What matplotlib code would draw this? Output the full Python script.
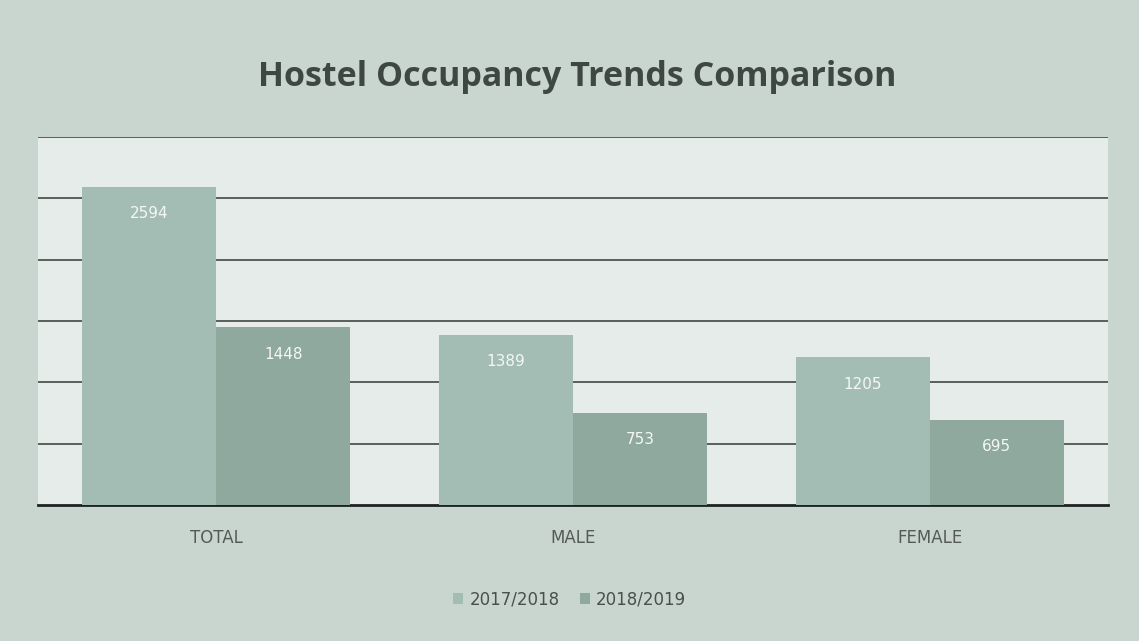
import matplotlib.pyplot as plt
import numpy as np

# data
categories=["TOTAL","MALE","FEMALE"]
series_names=["2017/2018","2018/2019"]
occ_2017=[2594,1389,1205]
occ_2018=[1448,753,695]

BG="#c9d6d0"
COLORS=["#a4bdb4","#8fa99f"]

fig=plt.figure(figsize=(11.39,6.41),dpi=100)
fig.patch.set_facecolor(BG)
ax=fig.add_axes([0.0334,0.2122,0.9394,0.5738])
ax.set_facecolor("#e6ece9")

x=np.arange(len(categories))
w=0.376
for i,(vals,nm) in enumerate([(occ_2017,series_names[0]),(occ_2018,series_names[1])]):
    off=(i-0.5)*w
    bars=ax.bar(x+off,vals,width=w,color=COLORS[i],label=nm,zorder=3)
    for b,v in zip(bars,vals):
        ax.text(b.get_x()+b.get_width()/2,v-220,f"{v}",ha="center",va="center",
                fontsize=11,color="#f4f7f5",zorder=4)

ax.set_xlim(-0.5,2.5)
ax.set_ylim(0,3000)
ax.set_yticks(np.arange(500,3001,500))
ax.yaxis.grid(True,color="#5a5f5c",linewidth=1.4,zorder=0)
ax.tick_params(axis="y",left=False,labelleft=False)
ax.tick_params(axis="x",bottom=False,labelsize=12,labelcolor="#555a57",pad=14)
ax.set_xticks(x)
ax.set_xticklabels(categories)
for s in ["top","right","left"]:
    ax.spines[s].set_visible(False)
ax.spines["bottom"].set_color("#1e2220")
ax.spines["bottom"].set_linewidth(2)

fig.text(0.507,0.88,"Hostel Occupancy Trends Comparison",ha="center",va="center",
         fontsize=24.5,fontweight="bold",color="#3f4743",family="Open Sans")

leg=fig.legend(loc="center",bbox_to_anchor=(0.5,0.065),ncol=2,frameon=False,
               fontsize=12,handlelength=0.6,handleheight=0.6,columnspacing=1.2,handletextpad=0.4)
for t in leg.get_texts():
    t.set_color("#4a4f4c")

fig.savefig("out.png",dpi=100,facecolor=fig.get_facecolor())
